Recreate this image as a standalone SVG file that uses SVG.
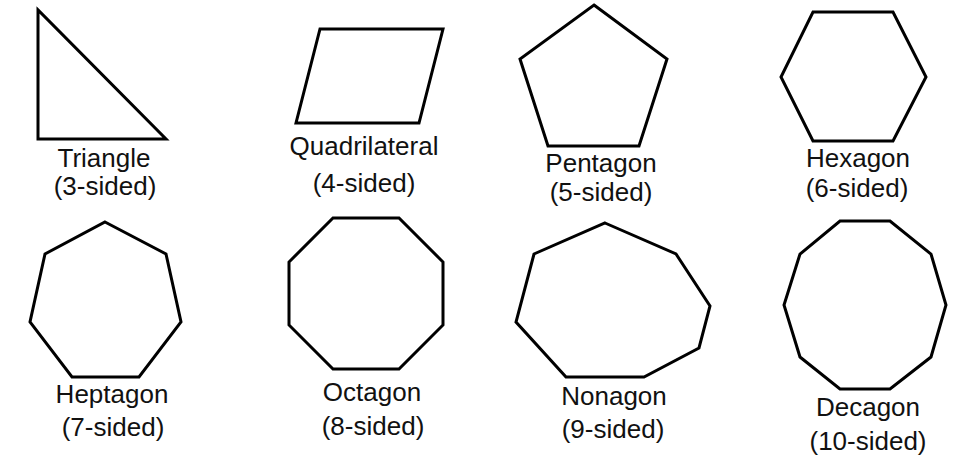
<svg xmlns="http://www.w3.org/2000/svg" width="962" height="468" viewBox="0 0 962 468">
<style>
.shape{fill:#ffffff;stroke:#000000;stroke-width:3;stroke-linejoin:miter}
.lbl{font-family:"Liberation Sans",Arial,sans-serif;font-size:26px;fill:#111111;text-anchor:middle}
</style>
<rect width="962" height="468" fill="#ffffff"/>
<g id="triangle">
<polygon class="shape" points="38,10 38,139 166,139"/>
<text class="lbl" x="104" y="167">Triangle</text>
<text class="lbl" x="105" y="195">(3-sided)</text>
</g>
<g id="quadrilateral">
<polygon class="shape" points="320,29 443,29 419,123 296,123"/>
<text class="lbl" x="364" y="155">Quadrilateral</text>
<text class="lbl" x="364" y="192">(4-sided)</text>
</g>
<g id="pentagon">
<polygon class="shape" points="594,5 667,59 639,146 548,146 520,59"/>
<text class="lbl" x="601" y="172">Pentagon</text>
<text class="lbl" x="601" y="201">(5-sided)</text>
</g>
<g id="hexagon">
<polygon class="shape" points="813,12 893,12 926,77 893,141 813,141 781,77"/>
<text class="lbl" x="858" y="167">Hexagon</text>
<text class="lbl" x="857" y="197">(6-sided)</text>
</g>
<g id="heptagon">
<polygon class="shape" points="105,222 166,254 181,322 139,377 72,377 30,322 45,254"/>
<text class="lbl" x="112" y="403">Heptagon</text>
<text class="lbl" x="113" y="436">(7-sided)</text>
</g>
<g id="octagon">
<polygon class="shape" points="333,218 399,218 443,262 443,325 399,369 333,369 289,325 289,262"/>
<text class="lbl" x="372" y="401">Octagon</text>
<text class="lbl" x="373" y="435">(8-sided)</text>
</g>
<g id="nonagon">
<polygon class="shape" points="605,223 676,254 710,306 699,348 644,377 566,377 516,322 534,254"/>
<text class="lbl" x="614" y="405">Nonagon</text>
<text class="lbl" x="613" y="438">(9-sided)</text>
</g>
<g id="decagon">
<polygon class="shape" points="840,221 890,221 931,254 946,305 931,357 890,389 840,389 800,357 784,305 800,254"/>
<text class="lbl" x="868" y="416">Decagon</text>
<text class="lbl" x="868" y="450">(10-sided)</text>
</g>
<g id="connectors"/>
</svg>
